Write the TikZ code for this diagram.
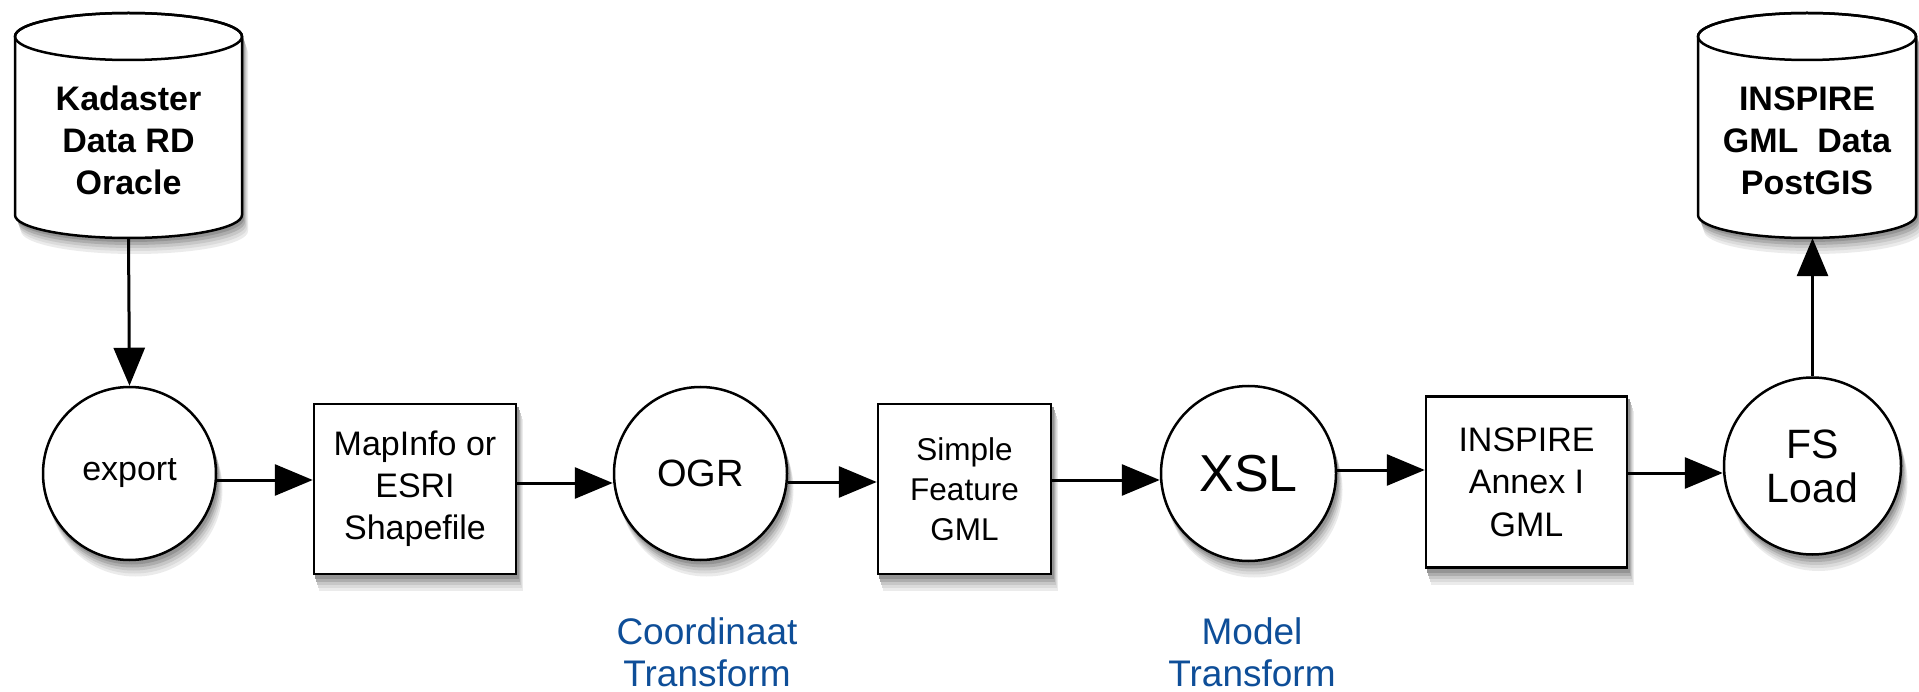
\documentclass[tikz,border=0pt]{standalone}
\usepackage{fontspec}
\setmainfont{Liberation Sans}
\usetikzlibrary{arrows.meta}
\definecolor{labelblue}{RGB}{14,78,152}
\pgfdeclarelayer{shadowlayer}
\pgfsetlayers{shadowlayer,main}
\begin{document}
\begin{tikzpicture}[x=1pt,y=-1pt,
  proc/.style={circle,draw,line width=2.5pt,fill=white,inner sep=0pt,align=center},
  databox/.style={rectangle,draw,line width=2.5pt,fill=white,inner sep=0pt,align=center},
  arr/.style={line width=3pt,draw=black,-{Triangle[length=38pt,width=31pt,fill=black]}},
  dbtext/.style={align=center,font=\bfseries\fontsize{34}{42}\selectfont},
  note/.style={align=center,text=labelblue,font=\fontsize{37}{42}\selectfont}]
\useasboundingbox (0,0) rectangle (1919,692);

% source database cylinder
\node[minimum width=227pt,minimum height=225pt,inner sep=0pt] (kad) at (128.5,125.5) {};
\draw[line width=2.5pt,fill=white] (15,36.5) -- (15,215)
  arc[start angle=180,end angle=0,x radius=113.5,y radius=23] -- (242,36.5)
  arc[start angle=0,end angle=-180,x radius=113.5,y radius=23.5] -- cycle;
\draw[line width=2.5pt] (128.5,36.5) ellipse[x radius=113.5,y radius=23.5];
\node[dbtext] (kadt) at (128.5,140) {Kadaster\\Data RD\\Oracle};

% target database cylinder
\node[minimum width=218pt,minimum height=225pt,inner sep=0pt] (ins) at (1807,125.5) {};
\draw[line width=2.5pt,fill=white] (1698,36.5) -- (1698,215)
  arc[start angle=180,end angle=0,x radius=109,y radius=23] -- (1916,36.5)
  arc[start angle=0,end angle=-180,x radius=109,y radius=23.5] -- cycle;
\draw[line width=2.5pt] (1807,36.5) ellipse[x radius=109,y radius=23.5];
\node[dbtext] (inst) at (1807,141) {INSPIRE\\GML~~Data\\PostGIS};

% process row
\node[proc,minimum size=173pt,font=\fontsize{34}{42}\selectfont] (export) at (129.5,473.5) {export};
\node[databox,minimum width=202pt,minimum height=170pt,font=\fontsize{34}{42}\selectfont] (map) at (415,489) {MapInfo or\\ESRI\\Shapefile};
\node[proc,minimum size=173pt,font=\fontsize{38}{42}\selectfont] (ogr) at (700.5,473.5) {OGR};
\node[databox,minimum width=173pt,minimum height=170pt,font=\fontsize{31.5}{40}\selectfont] (simple) at (964.5,489) {Simple\\Feature\\GML};
\node[proc,minimum size=175pt,font=\fontsize{52}{54}\selectfont] (xsl) at (1248.5,473.5) {XSL};
\node[databox,minimum width=201pt,minimum height=171pt,font=\fontsize{34}{42.5}\selectfont] (annex) at (1526.5,482) {INSPIRE\\Annex I\\GML};
\node[proc,minimum size=177pt,font=\fontsize{41}{44}\selectfont] (fs) at (1812.5,466) {FS\\Load};

% soft drop shadows
\begin{pgfonlayer}{shadowlayer}
\foreach \dx/\dy/\c in {6/16/8, 5/13/14, 4/10/22, 3/7/32, 2/4/42} {
  \fill[black!\c,shift={(\dx,\dy)}] (15,36.5) -- (15,215)
    arc[start angle=180,end angle=0,x radius=113.5,y radius=23] -- (242,36.5)
    arc[start angle=0,end angle=-180,x radius=113.5,y radius=23.5] -- cycle;
  \fill[black!\c,shift={(\dx,\dy)}] (1698,36.5) -- (1698,215)
    arc[start angle=180,end angle=0,x radius=109,y radius=23] -- (1916,36.5)
    arc[start angle=0,end angle=-180,x radius=109,y radius=23.5] -- cycle;
  \fill[black!\c] ([shift={(\dx,\dy)}]export.center) circle[radius=87];
  \fill[black!\c] ([shift={(\dx,\dy)}]ogr.center) circle[radius=87];
  \fill[black!\c] ([shift={(\dx,\dy)}]xsl.center) circle[radius=88];
  \fill[black!\c] ([shift={(\dx,\dy)}]fs.center) circle[radius=89];
  \fill[black!\c] ([shift={(\dx,\dy)}]map.south west) rectangle ([shift={(\dx,\dy)}]map.north east);
  \fill[black!\c] ([shift={(\dx,\dy)}]simple.south west) rectangle ([shift={(\dx,\dy)}]simple.north east);
  \fill[black!\c] ([shift={(\dx,\dy)}]annex.south west) rectangle ([shift={(\dx,\dy)}]annex.north east);
}
\end{pgfonlayer}

% connectors
\draw[arr] (kad.south) -- (export.north);
\draw[arr] (export.east |- 0,480) -- (map.west |- 0,480);
\draw[arr] (map.east |- 0,483) -- (ogr.west |- 0,483);
\draw[arr] (ogr.east |- 0,482) -- (simple.west |- 0,482);
\draw[arr] (simple.east |- 0,480) -- (xsl.west |- 0,480);
\draw[arr] (xsl.east |- 0,470) -- (annex.west |- 0,470);
\draw[arr] (annex.east |- 0,473) -- (fs.west |- 0,473);
\draw[arr] (fs.north) -- (fs.north |- ins.south);

% labels
\node[note] (coord) at (707,652) {Coordinaat\\Transform};
\node[note] (model) at (1252,652) {Model\\Transform};
\end{tikzpicture}
\end{document}
